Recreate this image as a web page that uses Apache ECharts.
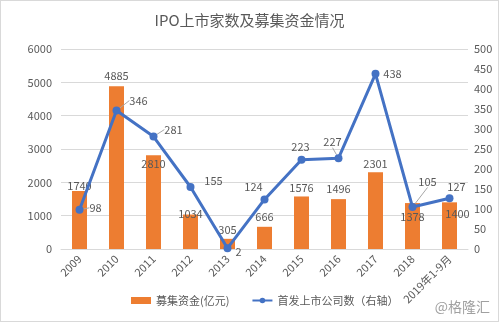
<!DOCTYPE html>
<html><head><meta charset="utf-8">
<script src="https://cdn.jsdelivr.net/npm/echarts@6/dist/echarts.min.js"></script>
<style>html,body{margin:0;padding:0;background:#fff}#c{width:497px;height:320px;border:1px solid #d9d9d9}</style>
</head><body><div id="c"></div>
<script>
const categories = ['2009','2010','2011','2012','2013','2014','2015','2016','2017','2018','2019年1-9月'];
const funds = [1740,4885,2810,1034,305,666,1576,1496,2301,1378,1400];
const ipoCount = [98,346,281,155,2,124,223,227,438,105,127];
const leftTicks = {min:0,max:6000,interval:1000};
const rightTicks = {min:0,max:500,interval:50};
// label placement (text centre relative to the mark, px)
const barLabelOffsets = [[0,2],[0,-3],[0,16],[0,7],[0,-2],[0,-2],[0,-1],[0,-3],[0,-1],[0,21],[8,19]];
const lineLabelShift = [[16,-2],[22,-10],[20,-7],[23,-6],[11,4],[-11,-13],[-1,-13],[-6,-16],[17,0],[15,-25],[7,-11]];
const lineLeader = [true,true,true,false,false,false,false,true,false,true,false];

const chart = echarts.init(document.getElementById('c'));
const txt = '#595959';
chart.setOption({
  animation:false,
  textStyle:{fontFamily:'"Noto Sans CJK SC", "Noto Sans", sans-serif'},
  title:{text:'IPO上市家数及募集资金情况',left:'center',top:7,textStyle:{fontSize:15,fontWeight:'normal',color:txt}},
  grid:{left:60,right:30,top:48,bottom:72},
  legend:{bottom:10,left:125,itemGap:22,textStyle:{color:txt,fontSize:11},
    data:[{name:'募集资金(亿元)',icon:'rect'},{name:'首发上市公司数（右轴）'}],itemWidth:20,itemHeight:7},
  graphic:[{type:'text',right:8,bottom:7,style:{text:'@格隆汇',fill:'#a0a0a0',fontSize:14,fontFamily:'"Noto Sans CJK SC"'}}],
  xAxis:{type:'category',data:categories,axisTick:{show:false},
    axisLine:{lineStyle:{color:'#d9d9d9'}},
    axisLabel:{rotate:45,color:txt,fontSize:11,interval:0,margin:8}},
  yAxis:[
    {type:'value',min:leftTicks.min,max:leftTicks.max,interval:leftTicks.interval,
      axisLabel:{color:txt,fontSize:11,margin:9,formatter:v=>String(v)},splitLine:{lineStyle:{color:'#d9d9d9'}},axisLine:{show:false}},
    {type:'value',min:rightTicks.min,max:rightTicks.max,interval:rightTicks.interval,
      axisLabel:{color:txt,fontSize:11,margin:6,formatter:v=>String(v)},splitLine:{show:false},axisLine:{show:false}}
  ],
  series:[
    {name:'募集资金(亿元)',type:'bar',barWidth:15,itemStyle:{color:'#ED7D31'},
      data:funds.map((v,i)=>({value:v,label:{offset:barLabelOffsets[i]}})),
      label:{show:true,position:'top',color:txt,fontSize:11,distance:2}},
    {name:'首发上市公司数（右轴）',type:'line',yAxisIndex:1,symbol:'circle',symbolSize:8,
      lineStyle:{color:'#4472C4',width:3},itemStyle:{color:'#4472C4'},
      data:ipoCount.map((v,i)=>({value:v,
        label:{position:[lineLabelShift[i][0]+4,lineLabelShift[i][1]+4]},
        labelLine:{show:lineLeader[i]}})),
      labelLine:{lineStyle:{color:'#a6a6a6',width:1}},
      label:{show:true,color:txt,fontSize:11,align:'center',verticalAlign:'middle'},z:5}
  ]
});
</script></body></html>
